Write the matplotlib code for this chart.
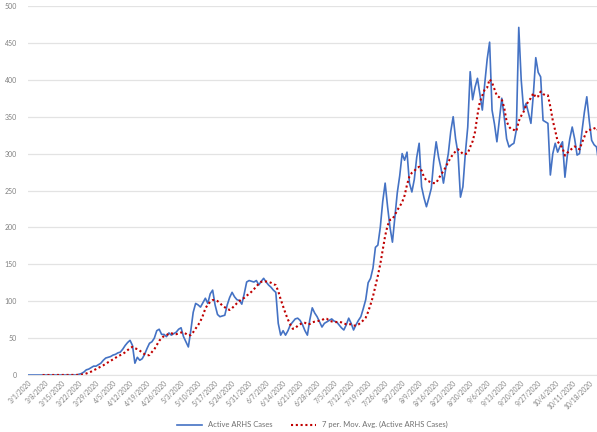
import matplotlib.pyplot as plt
import numpy as np
import pandas as pd

# Daily active case counts (3/1/2020 onward)
start_date = '2020-03-01'
active_cases = [
    0, 0, 0, 0, 0, 0, 0, 0, 0, 0,
    0, 0, 0, 0, 0, 0, 0, 0, 0, 0,
    0, 1, 2, 4, 7, 8, 10, 12, 12, 14,
    16, 20, 23, 24, 25, 27, 28, 30, 31, 35,
    40, 44, 47, 40, 16, 24, 20, 22, 28, 36,
    43, 45, 50, 60, 62, 55, 55, 52, 57, 54,
    56, 58, 62, 64, 52, 45, 38, 60, 85, 97,
    95, 92, 98, 104, 97, 110, 115, 95, 82, 79,
    80, 81, 95, 105, 112, 106, 102, 101, 96, 110,
    126, 128, 127, 126, 128, 122, 127, 131, 126, 122,
    119, 115, 112, 70, 54, 60, 54, 60, 68, 72,
    76, 77, 74, 68, 60, 54, 75, 91, 84, 79,
    72, 65, 70, 72, 74, 76, 73, 72, 68, 64,
    61, 68, 77, 70, 61, 68, 74, 79, 90, 102,
    125, 131, 145, 173, 176, 200, 235, 260, 228, 200,
    180, 214, 247, 270, 300, 291, 302, 260, 248, 265,
    295, 314, 255, 240, 228, 240, 253, 290, 316, 295,
    280, 260, 281, 300, 330, 350, 320, 300, 241, 255,
    300, 336, 411, 373, 390, 402, 380, 359, 395, 428,
    451, 359, 340, 316, 345, 375, 350, 320, 309, 312,
    314, 332, 471, 400, 359, 368, 355, 341, 380, 430,
    410, 404, 345, 343, 341, 271, 300, 314, 302, 310,
    316, 268, 298, 320, 336, 320, 298, 300, 330, 356,
    377, 345, 318, 312, 309, 285,
]
dates = pd.date_range(start_date, periods=len(active_cases), freq='D')
series_labels = ['Active ARHS Cases', '7 per. Mov. Avg. (Active ARHS Cases)']
y_ticks = list(range(0, 501, 50))

cases = pd.Series(active_cases, index=dates)
moving_avg = cases.rolling(7).mean()  # Excel 7-period moving average trendline
x = np.arange(len(cases))

plt.rcParams['font.family'] = ['Lato', 'DejaVu Sans']

fig = plt.figure(figsize=(5.97, 4.32), dpi=100)
ax = fig.add_axes([28 / 597, 1 - 375 / 432, 1 - 28 / 597, 369 / 432])

ax.plot(x, cases.values, color='#4472C4', linewidth=1.2, label=series_labels[0])
ax.plot(x, moving_avg.values, color='#C00000', linewidth=1.5, linestyle=(0, (1, 1.3)),
        dash_capstyle='butt', label=series_labels[1])

ax.set_ylim(0, 500)
ax.set_xlim(0, 234.2)
ax.set_yticks(y_ticks)
ax.tick_params(axis='y', length=0, labelsize=5, labelcolor='#808080', pad=8)
ax.grid(axis='y', color='#e3e3e3', linewidth=0.9)
ax.set_axisbelow(True)

ax.set_xticks(x[::7])
ax.set_xticklabels([f'{d.month}/{d.day}/{d.year}' for d in dates[::7]],
                   rotation=45, ha='right', va='top', rotation_mode='anchor',
                   fontsize=4.8, color='#808080')
ax.tick_params(axis='x', length=0, pad=3)

for side in ['top', 'right', 'left']:
    ax.spines[side].set_visible(False)
ax.spines['bottom'].set_color('#e3e3e3')

ax.legend(loc='center', bbox_to_anchor=(0.5, -0.135), ncol=2, frameon=False,
          fontsize=5.5, labelcolor='#707070', handlelength=3.2, columnspacing=2.5)

plt.savefig('out.png', dpi=100)
